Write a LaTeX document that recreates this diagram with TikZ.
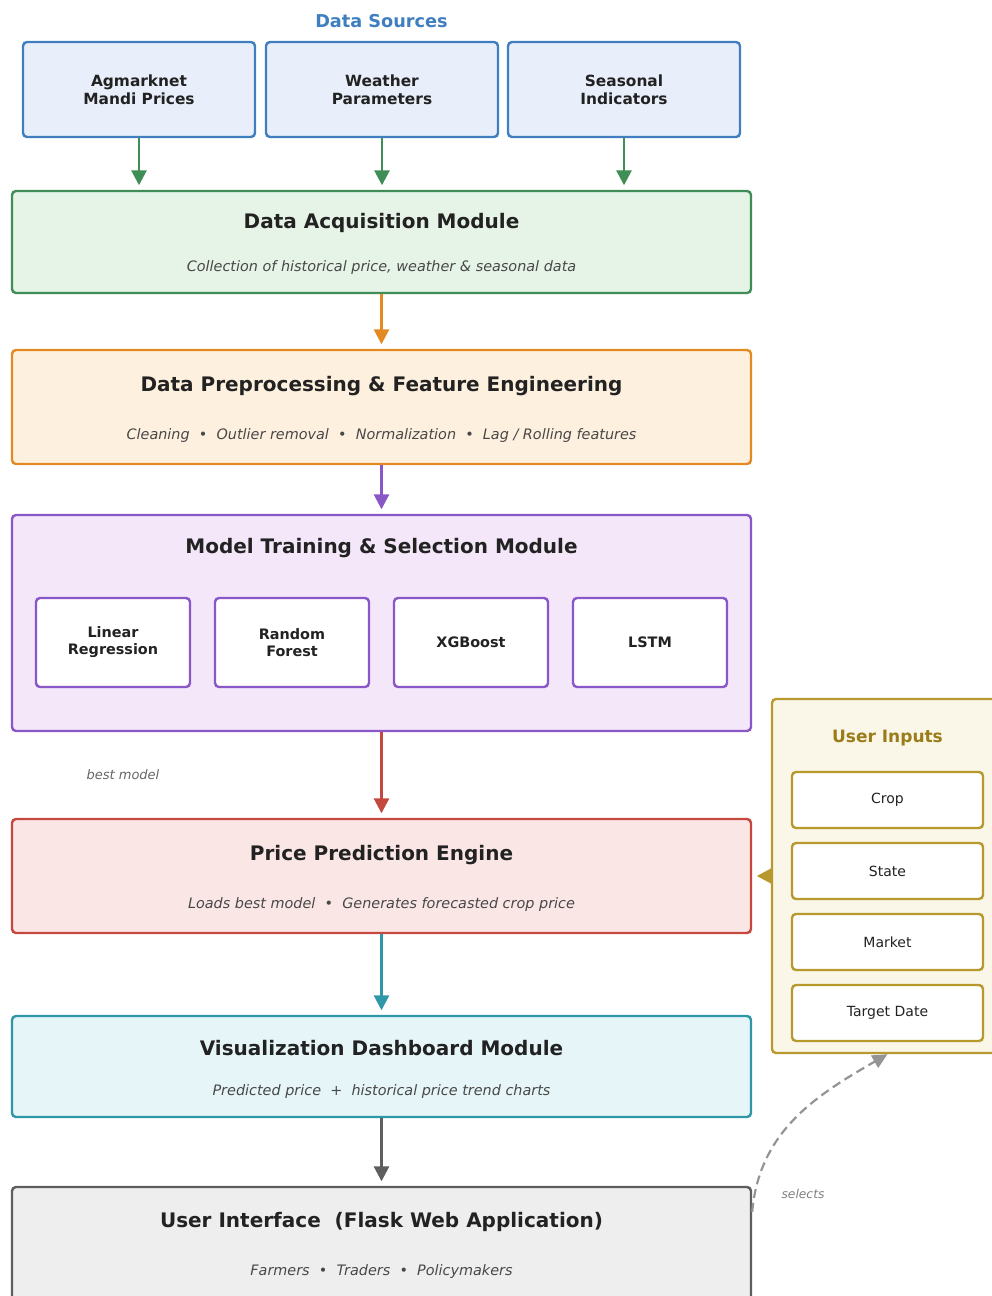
\documentclass[tikz,border=0pt]{standalone}
\usepackage{fontspec}
\setmainfont{DejaVu Sans}
\usetikzlibrary{arrows.meta}

\definecolor{srcblue}{HTML}{3F7FBF}
\definecolor{srcfill}{HTML}{E8EFFA}
\definecolor{acqgreen}{HTML}{3E8E56}
\definecolor{acqfill}{HTML}{E6F3E7}
\definecolor{preorange}{HTML}{E38B22}
\definecolor{prefill}{HTML}{FEF0DE}
\definecolor{modpurple}{HTML}{8A57C8}
\definecolor{modfill}{HTML}{F3E7F9}
\definecolor{predred}{HTML}{C5483F}
\definecolor{predfill}{HTML}{FBE6E6}
\definecolor{visteal}{HTML}{2E98A8}
\definecolor{visfill}{HTML}{E6F5F7}
\definecolor{uigrey}{HTML}{5E5E5E}
\definecolor{uifill}{HTML}{EEEEEE}
\definecolor{ingold}{HTML}{B8992E}
\definecolor{infill}{HTML}{FAF6E8}
\definecolor{intitle}{HTML}{9A7D18}
\definecolor{txtdark}{HTML}{222222}
\definecolor{txtsub}{HTML}{484848}

\tikzset{
  box/.style={draw, line width=2.4pt, rounded corners=4pt, inner sep=0pt},
  bigbox/.style={box, minimum width=739pt},
  srcbox/.style={box, draw=srcblue, fill=srcfill, minimum width=232pt, minimum height=95pt,
    align=center, text=txtdark, font=\fontsize{15.4}{18}\selectfont\bfseries},
  algbox/.style={box, draw=modpurple, fill=white, minimum width=154pt, minimum height=89pt,
    align=center, text=txtdark, font=\fontsize{14.4}{17}\selectfont\bfseries},
  inbox/.style={box, draw=ingold, fill=white, minimum width=191pt, minimum height=56pt,
    text=txtdark, font=\fontsize{14}{17}\selectfont},
  title/.style={text=txtdark, font=\fontsize{20}{24}\selectfont\bfseries},
  sub/.style={text=txtsub, font=\fontsize{14.4}{17}\selectfont\itshape},
  note/.style={font=\fontsize{13}{16}\selectfont\itshape},
  flow/.style={line width=2.8pt, -{Triangle[length=15pt,width=15pt]}, shorten >=4.5pt}
}

\begin{document}
\begin{tikzpicture}[x=1pt, y=-1pt]
  \useasboundingbox (0,0) rectangle (991,1296);

  \node[text=srcblue, font=\fontsize{17.7}{21}\selectfont\bfseries] (srctitle) at (381.5,21) {Data Sources};
  \node[srcbox] (agmark) at (139,89.5) {Agmarknet\\Mandi Prices};
  \node[srcbox] (weather) at (382,89.5) {Weather\\Parameters};
  \node[srcbox] (season) at (624,89.5) {Seasonal\\Indicators};

  \node[bigbox, draw=acqgreen, fill=acqfill, minimum height=102pt] (acq) at (381.5,242) {};
  \node[title] (acqT) at (381.5,223) {Data Acquisition Module};
  \node[sub] (acqS) at (381.5,268) {Collection of historical price, weather \& seasonal data};

  \node[bigbox, draw=preorange, fill=prefill, minimum height=114pt] (pre) at (381.5,407) {};
  \node[title] (preT) at (381.5,386) {Data Preprocessing \& Feature Engineering};
  \node[sub] (preS) at (381.5,436) {Cleaning~~•~~Outlier removal~~•~~Normalization~~•~~Lag / Rolling features};

  \node[bigbox, draw=modpurple, fill=modfill, minimum height=216pt] (model) at (381.5,623) {};
  \node[title] (modelT) at (381.5,548) {Model Training \& Selection Module};
  \node[algbox] (linreg) at (113,642.5) {Linear\\Regression};
  \node[algbox] (rforest) at (292,642.5) {Random\\Forest};
  \node[algbox] (xgb) at (471,642.5) {XGBoost};
  \node[algbox] (lstm) at (650,642.5) {LSTM};

  \node[note, text=black!60] (bestlbl) at (123,775) {best model};

  \node[bigbox, draw=predred, fill=predfill, minimum height=114pt] (pred) at (381.5,876) {};
  \node[title] (predT) at (381.5,855) {Price Prediction Engine};
  \node[sub] (predS) at (381.5,905) {Loads best model~~•~~Generates forecasted crop price};

  \node[bigbox, draw=visteal, fill=visfill, minimum height=101pt] (vis) at (381.5,1066.5) {};
  \node[title] (visT) at (381.5,1048) {Visualization Dashboard Module};
  \node[sub] (visS) at (381.5,1092) {Predicted price~~+~~historical price trend charts};

  \node[bigbox, draw=uigrey, fill=uifill, minimum height=114pt] (ui) at (381.5,1244) {};
  \node[title] (uiT) at (381.5,1222) {User Interface~~(Flask Web Application)};
  \node[sub] (uiS) at (381.5,1272) {Farmers~~•~~Traders~~•~~Policymakers};

  \node[box, draw=ingold, fill=infill, minimum width=231pt, minimum height=354pt] (inputs) at (887.5,876) {};
  \node[text=intitle, font=\fontsize{17}{20}\selectfont\bfseries] (inputsT) at (887.5,738) {User Inputs};
  \node[inbox] (crop) at (887.5,800) {Crop};
  \node[inbox] (state) at (887.5,871) {State};
  \node[inbox] (market) at (887.5,942) {Market};
  \node[inbox] (tdate) at (887.5,1013) {Target Date};

  \draw[flow, acqgreen] (agmark) -- (agmark |- acq.north);
  \draw[flow, acqgreen] (weather) -- (weather |- acq.north);
  \draw[flow, acqgreen] (season) -- (season |- acq.north);
  \draw[flow, preorange] (acq) -- (pre);
  \draw[flow, modpurple] (pre) -- (model);
  \draw[flow, predred] (model) -- (pred);
  \draw[flow, visteal] (pred) -- (vis);
  \draw[flow, uigrey] (vis) -- (ui);
  \draw[flow, ingold] (inputs) -- (pred);

  \draw[black!42, line width=2.2pt, dash pattern=on 9pt off 5pt, -{Triangle[length=15pt,width=14pt]}]
    ([yshift=-26pt]ui.north east) to[out=85, in=210] (inputs.south);
  \node[note, text=black!50, font=\fontsize{12.3}{15}\selectfont\itshape] (sellbl) at (803,1194) {selects};
\end{tikzpicture}
\end{document}
